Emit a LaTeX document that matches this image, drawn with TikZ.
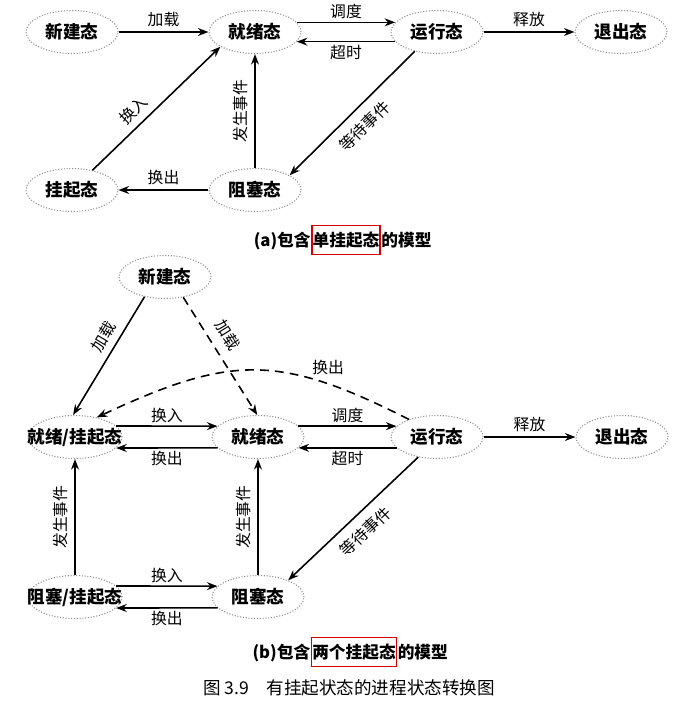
\documentclass[tikz,border=0pt]{standalone}
\usepackage{fontspec}
\setmainfont{Noto Sans CJK SC}
\usetikzlibrary{shapes.geometric}
\usetikzlibrary{arrows.meta}
\usetikzlibrary{positioning}
\tikzset{
	state/.style={ellipse,draw=black!45,densely dotted,line width=0.6pt,inner sep=1pt,minimum width=1.84cm,minimum height=0.86cm,font=\fontsize{10pt}{11pt}\selectfont\bfseries},
	widestate/.style={state,inner xsep=-8pt},
	trans/.style={->,line width=0.9pt,solid},
	transd/.style={trans,dash pattern=on 5pt off 3.5pt},
	lab/.style={font=\fontsize{9pt}{10pt}\selectfont,inner sep=1.5pt},
	caption/.style={font=\fontsize{9.5pt}{11pt}\selectfont\bfseries,inner sep=0pt},
	redbox/.style={caption,draw=red!85!black,line width=0.9pt,inner xsep=0.5pt,inner ysep=3.5pt},
	>={Stealth[length=6pt,width=4.5pt]},
	}

\begin{document}
\begin{tikzpicture}[x=0.02cm,y=-0.02cm]
\useasboundingbox (0,0) rectangle (682,703);
% (a) NODI
\node[state] (new1) at (72,32) {新建态};
\node[state] (ready1) at (255,32) {就绪态};
\node[state] (run1) at (437,32) {运行态};
\node[state] (exit1) at (621,32) {退出态};
\node[state] (susp1) at (72,190) {挂起态};
\node[state] (blk1) at (255,190) {阻塞态};
% (a) TRANSIZIONI
\draw[trans] (new1) -- node[lab,above=1pt]{加载} (ready1);
\draw[trans] (ready1.13) -- node[lab,above]{调度} (run1.167);
\draw[trans] (run1.193) -- node[lab,below]{超时} (ready1.347);
\draw[trans] (run1) -- node[lab,above=1pt]{释放} (exit1);
\draw[trans] (susp1.44) -- node[lab,sloped,above=2pt,pos=0.4]{换入} (ready1.203);
\draw[trans] (blk1) -- node[lab,sloped,above=2pt]{发生事件} (ready1);
\draw[trans] (run1.221) -- node[lab,sloped,below=4pt]{等待事件} (blk1.23);
\draw[trans] (blk1) -- node[lab,above=1pt]{换出} (susp1);
% (a) DIDASCALIA
\node[redbox] (capa2) at (346,240) {单挂起态};
\node[caption,anchor=base east] (capa1) at (capa2.base west) {(a)包含};
\node[caption,anchor=base west] (capa3) at (capa2.base east) {的模型};
% (b) NODI
\node[state] (new2) at (165,277) {新建态};
\node[widestate] (rs2) at (75,437) {就绪/挂起态};
\node[state] (ready2) at (258,437) {就绪态};
\node[state] (run2) at (437,437) {运行态};
\node[state] (exit2) at (622,437) {退出态};
\node[widestate] (bs2) at (75,597) {阻塞/挂起态};
\node[state] (blk2) at (258,597) {阻塞态};
% (b) TRANSIZIONI
\draw[trans] (new2.224) -- node[lab,sloped,above=2pt,pos=0.4]{加载} (rs2.95);
\draw[transd] (new2.312) -- node[lab,sloped,above=4pt,pos=0.4]{加载} (ready2.92);
\draw[transd] (run2.148) to[out=153,in=25,looseness=1.2] node[lab,pos=0.3,above right=0pt]{换出} (rs2.42);
\draw[trans] (rs2.15) -- node[lab,above]{换入} (ready2.165);
\draw[trans] (ready2.195) -- node[lab,below]{换出} (rs2.345);
\draw[trans] (ready2.15) -- node[lab,above]{调度} (run2.165);
\draw[trans] (run2.195) -- node[lab,below]{超时} (ready2.345);
\draw[trans] (run2) -- node[lab,above=1pt]{释放} (exit2);
\draw[trans] (bs2) -- node[lab,sloped,above=2pt]{发生事件} (rs2);
\draw[trans] (blk2) -- node[lab,sloped,above=2pt]{发生事件} (ready2);
\draw[trans] (run2.227) -- node[lab,sloped,below=4pt]{等待事件} (blk2.29);
\draw[trans] (bs2.15) -- node[lab,above]{换入} (blk2.165);
\draw[trans] (blk2.195) -- node[lab,below]{换出} (bs2.345);
% (b) DIDASCALIA
\node[redbox] (capb2) at (354,652) {两个挂起态};
\node[caption,anchor=base east] (capb1) at (capb2.base west) {(b)包含};
\node[caption,anchor=base west] (capb3) at (capb2.base east) {的模型};
% TITOLO
\node[font=\fontsize{10pt}{12pt}\selectfont] (fig) at (349,688) {图 3.9\quad 有挂起状态的进程状态转换图};
\end{tikzpicture}
\end{document}
